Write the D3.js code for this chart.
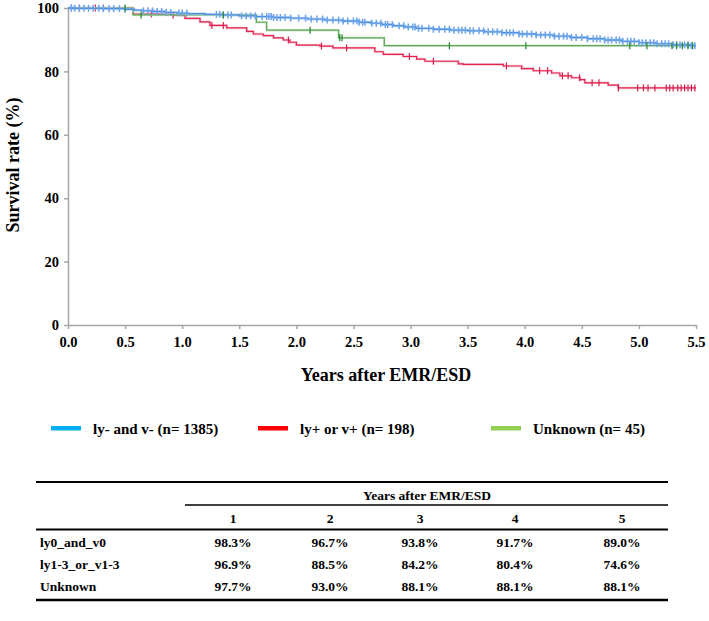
<!DOCTYPE html>
<html><head><meta charset="utf-8">
<script src="https://cdn.jsdelivr.net/npm/d3@7"></script>
<style>body{margin:0;background:#fff}svg{display:block}text{font-family:"Liberation Serif","Times New Roman",serif;font-weight:bold;fill:#000}</style>
</head><body><svg id="c" width="709" height="621"></svg>
<script>
// ---- data ----
const xTicks = [0,0.5,1,1.5,2,2.5,3,3.5,4,4.5,5,5.5];
const yTicks = [0,20,40,60,80,100];
const seriesNames = ["ly- and v- (n= 1385)","ly+ or v+ (n= 198)","Unknown (n= 45)"];
// step points [time, survival %]
const blueSteps = [[0,100],[0.05,99.9],[0.3,99.8],[0.5,99.6],[0.58,99.3],[0.65,99.1],[0.75,98.9],[0.85,98.6],[0.95,98.4],[1.05,98.2],[1.2,98.0],[1.35,97.8],[1.5,97.5],[1.65,97.3],[1.8,97.0],[1.95,96.8],[2.1,96.5],[2.25,96.2],[2.4,95.9],[2.55,95.5],[2.65,95.2],[2.75,94.8],[2.85,94.4],[2.95,94.0],[3.05,93.6],[3.2,93.3],[3.35,93.0],[3.5,92.8],[3.65,92.5],[3.8,92.2],[3.95,91.8],[4.1,91.5],[4.25,91.1],[4.4,90.7],[4.55,90.3],[4.7,89.9],[4.85,89.5],[5.0,89.0],[5.15,88.7],[5.3,88.4],[5.45,88.1],[5.5,88.1]];
const redSteps = [[0,100],[0.57,98.1],[0.92,97.7],[1.025,96.7],[1.156,95.6],[1.243,94.5],[1.39,93.7],[1.565,92.6],[1.623,91.8],[1.71,91.3],[1.80,90.6],[1.885,89.9],[1.944,89.2],[2.0,88.3],[2.207,88.0],[2.32,87.4],[2.688,86.2],[2.761,85.4],[2.936,84.7],[3.053,83.9],[3.126,83.2],[3.418,82.4],[3.462,82.2],[3.812,81.7],[3.973,80.9],[4.075,80.2],[4.235,79.5],[4.308,78.6],[4.41,78.0],[4.483,77.4],[4.527,76.4],[4.731,75.7],[4.819,74.8],[5.5,74.8]];
const greenSteps = [[0,100],[0.57,97.8],[1.65,95.5],[1.74,93.0],[2.37,90.6],[2.77,88.1],[5.5,88.1]];
// censored times
const blueCensor = [0.03,0.06,0.1,0.14,0.18,0.22,0.27,0.31,0.36,0.4,0.45,0.5,0.66,0.7,0.74,0.78,0.82,0.86,0.9,0.97,1.0,1.04,1.3,1.33,1.36,1.4,1.43,1.52,1.56,1.6,1.64,1.7,1.74,1.76,1.78,1.8,1.83,1.86,1.9,1.95,2.02,2.08,2.13,2.18,2.23,2.27,2.32,2.37,2.41,2.45,2.5,2.53,2.55,2.58,2.6,2.66,2.7,2.74,2.78,2.8,2.84,2.9,2.94,2.98,3.02,3.04,3.07,3.1,3.16,3.2,3.25,3.3,3.34,3.38,3.42,3.45,3.48,3.52,3.55,3.6,3.64,3.68,3.72,3.76,3.8,3.84,3.87,3.9,3.95,3.98,4.02,4.06,4.1,4.14,4.18,4.22,4.26,4.3,4.34,4.37,4.41,4.45,4.5,4.55,4.6,4.63,4.66,4.7,4.73,4.76,4.8,4.83,4.86,4.9,4.93,4.96,5.0,5.03,5.06,5.1,5.13,5.16,5.2,5.23,5.26,5.3,5.33,5.36,5.4,5.43,5.46,5.49];
const redCensor = [0.03,0.1,0.24,0.31,0.73,0.92,1.26,1.36,1.93,2.22,2.44,2.99,3.2,3.84,4.13,4.2,4.33,4.38,4.48,4.59,4.65,4.82,4.99,5.04,5.08,5.14,5.24,5.27,5.30,5.34,5.37,5.40,5.43,5.46,5.49];
const greenCensor = [0.5,0.64,1.36,2.12,2.38,2.40,3.34,4.01,4.92,5.07,5.29,5.33,5.38,5.43,5.47];
// table
const tableYears = ["1","2","3","4","5"];
const tableRows = ["ly0_and_v0","ly1-3_or_v1-3","Unknown"];
const row1 = ["98.3%","96.7%","93.8%","91.7%","89.0%"];
const row2 = ["96.9%","88.5%","84.2%","80.4%","74.6%"];
const row3 = ["97.7%","93.0%","88.1%","88.1%","88.1%"];

// ---- chart ----
const svg = d3.select("#c");
const x = d3.scaleLinear().domain([0,5.5]).range([68,696]);
const y = d3.scaleLinear().domain([0,100]).range([325,8]);
const axisCol = "#a6a6a6";

const xa = svg.append("g").attr("transform","translate(0,325)")
  .call(d3.axisBottom(x).tickValues(xTicks).tickFormat(d3.format(".1f")).tickSize(4).tickSizeOuter(0));
const ya = svg.append("g").attr("transform","translate(68,0)")
  .call(d3.axisLeft(y).tickValues(yTicks).tickSize(4).tickSizeOuter(0));
[xa,ya].forEach(a=>{a.selectAll("path,line").attr("stroke",axisCol).attr("stroke-width",1.5);
  a.selectAll("text").style("font-family","'Liberation Serif',serif").style("font-weight","bold").style("font-size","14.5px").attr("fill","#000");});
xa.selectAll("text").attr("dy","1.05em");
ya.selectAll("text").attr("x",-9);

svg.append("text").attr("x",386).attr("y",381).attr("text-anchor","middle").style("font-size","18px").text("Years after EMR/ESD");
svg.append("text").attr("transform","translate(19,165) rotate(-90)").attr("text-anchor","middle").style("font-size","18px").text("Survival rate (%)");

const line = d3.line().x(d=>x(d[0])).y(d=>y(d[1])).curve(d3.curveStepAfter);
function survAt(steps,t){const i=d3.bisector(d=>d[0]).right(steps,t)-1;return steps[Math.max(0,i)][1];}
function marks(steps,times,col,w){
  svg.append("g").selectAll("line").data(times).join("line")
   .attr("x1",d=>x(d)).attr("x2",d=>x(d))
   .attr("y1",d=>y(survAt(steps,d))-3.5).attr("y2",d=>y(survAt(steps,d))+3.5)
   .attr("stroke",col).attr("stroke-width",w);
}
// red
svg.append("path").datum(redSteps).attr("d",line).attr("fill","none").attr("stroke","#f3a0b4").attr("stroke-width",2.5).attr("opacity",0.6);
svg.append("path").datum(redSteps).attr("d",line).attr("fill","none").attr("stroke","#e0244f").attr("stroke-width",1.2);
marks(redSteps,redCensor,"#d81e4a",1.2);
// green line
svg.append("path").datum(greenSteps).attr("d",line).attr("fill","none").attr("stroke","#b6dbb0").attr("stroke-width",2.5).attr("opacity",0.6);
svg.append("path").datum(greenSteps).attr("d",line).attr("fill","none").attr("stroke","#5ea85a").attr("stroke-width",1.2);
// blue
svg.append("path").datum(blueSteps).attr("d",line).attr("fill","none").attr("stroke","#a9c8f2").attr("stroke-width",3).attr("opacity",0.6);
svg.append("path").datum(blueSteps).attr("d",line).attr("fill","none").attr("stroke","#4a8ee0").attr("stroke-width",1.3);
marks(blueSteps,blueCensor,"#6aa3ea",1.5);
marks(greenSteps,greenCensor,"#2f8a34",1.3);

// legend
const legCols = ["#00b0f0","#ff0000","#92d050"];
const legX = [51,258,491];
seriesNames.forEach((n,i)=>{
  svg.append("rect").attr("x",legX[i]).attr("y",426).attr("width",30).attr("height",4.5).attr("fill",legCols[i]);
  svg.append("text").attr("x",legX[i]+42).attr("y",434).style("font-size","15px").text(n);
});

// table
const tl = 36, tr = 668;
const colX = [233,330,420,515,622];
const tfs = "13.5px";
svg.append("line").attr("x1",tl).attr("x2",tr).attr("y1",482).attr("y2",482).attr("stroke","#000").attr("stroke-width",2.2);
svg.append("text").attr("x",427).attr("y",500).attr("text-anchor","middle").style("font-size",tfs).text("Years after EMR/ESD");
svg.append("line").attr("x1",185).attr("x2",tr).attr("y1",505).attr("y2",505).attr("stroke","#000").attr("stroke-width",1.3);
tableYears.forEach((t,i)=>svg.append("text").attr("x",colX[i]).attr("y",523).attr("text-anchor","middle").style("font-size",tfs).text(t));
svg.append("line").attr("x1",tl).attr("x2",tr).attr("y1",529.5).attr("y2",529.5).attr("stroke","#000").attr("stroke-width",2.2);
const rowY = [547,569,591];
[row1,row2,row3].forEach((r,j)=>{
  svg.append("text").attr("x",40).attr("y",rowY[j]).style("font-size",tfs).text(tableRows[j]);
  r.forEach((v,i)=>svg.append("text").attr("x",colX[i]).attr("y",rowY[j]).attr("text-anchor","middle").style("font-size",tfs).text(v));
});
svg.append("line").attr("x1",tl).attr("x2",tr).attr("y1",600).attr("y2",600).attr("stroke","#000").attr("stroke-width",2.5);
</script></body></html>
